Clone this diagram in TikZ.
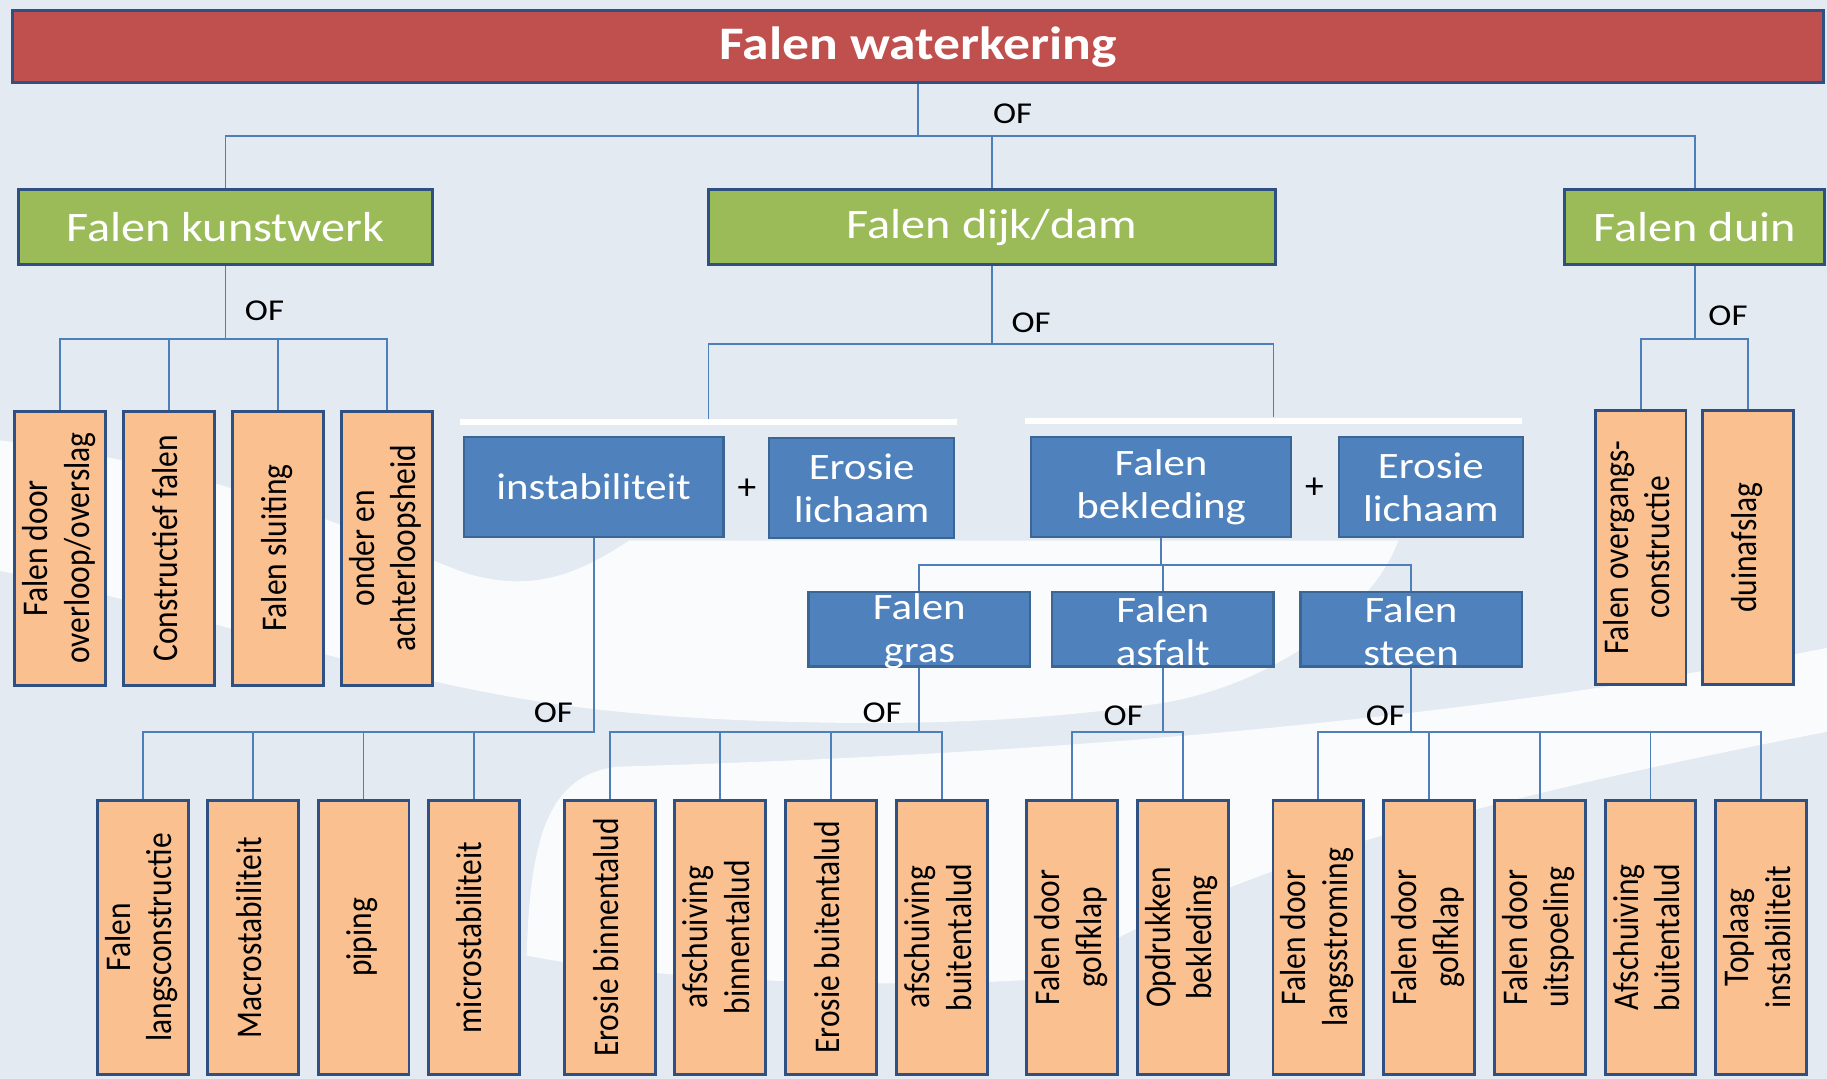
\documentclass[tikz,border=0pt]{standalone}
\usepackage{fontspec}
\usepackage{graphicx}
\setmainfont{Carlito}
\newfontfamily\widefont[FakeStretch=1.15]{Carlito}

\definecolor{bgcol}{HTML}{E3EAF2}
\definecolor{redfill}{HTML}{C0504D}
\definecolor{greenfill}{HTML}{9BBB59}
\definecolor{bluefill}{HTML}{4F81BD}
\definecolor{orangefill}{HTML}{FAC090}
\definecolor{darkedge}{HTML}{2F5083}
\definecolor{blueedge}{HTML}{3A6595}
\definecolor{linecol}{HTML}{4F7FBA}

% vertical label, read from bottom to top
\newcommand\rottext[1]{\rotatebox{90}{\scalebox{1}[1.15]{\begin{tabular}{@{}c@{}}#1\end{tabular}}}}

\tikzset{
  conn/.style={draw=linecol, line width=1.6pt},
  redbox/.style={draw=darkedge, line width=2.5pt, fill=redfill, text=white, inner sep=0,
    font=\widefont\bfseries\fontsize{40}{48}\selectfont},
  greenbox/.style={draw=darkedge, line width=2.5pt, fill=greenfill, text=white, inner sep=0,
    minimum height=64, font=\widefont\fontsize{36}{43}\selectfont},
  bluebox/.style={draw=blueedge, line width=2pt, fill=bluefill, text=white, inner sep=0,
    align=center, font=\widefont\fontsize{32}{37}\selectfont},
  bluetext/.style={text=white, inner sep=0, align=center, font=\widefont\fontsize{32}{37}\selectfont},
  orangebox/.style={draw=darkedge, line width=2.5pt, fill=orangefill, text=black, inner sep=0,
    minimum width=78, minimum height=235, font=\fontsize{27}{31}\selectfont},
  oflabel/.style={inner sep=0, font=\widefont\fontsize{26}{30}\selectfont},
  plussign/.style={inner sep=0, font=\fontsize{32}{32}\selectfont},
  groupstrip/.style={fill=white, inner sep=0, minimum height=5},
}

\begin{document}
\begin{tikzpicture}[x=1pt,y=-1pt]
\useasboundingbox (0,0) rectangle (1568,926);
\fill[bgcol] (0,0) rectangle (1568,926);

% white swoosh in the backdrop
\fill[white, opacity=0.85] (0,378) .. controls (180,398) and (320,462) .. (400,492)
  .. controls (460,510) and (500,490) .. (540,464) -- (1200,464)
  .. controls (1180,520) and (1100,585) .. (1000,603)
  .. controls (900,618) and (800,622) .. (700,620)
  .. controls (600,618) and (520,612) .. (450,600)
  .. controls (300,575) and (150,520) .. (0,490) -- cycle;
\fill[white, opacity=0.85] (452,820) .. controls (455,720) and (470,665) .. (530,658)
  .. controls (800,650) and (1200,630) .. (1568,556) -- (1568,628)
  .. controls (1300,680) and (1050,740) .. (900,840)
  .. controls (750,850) and (550,840) .. (452,820) -- cycle;

% bus levels
\coordinate (busTop) at (0,117);
\coordinate (busK) at (0,291);
\coordinate (busD) at (0,295);
\coordinate (busU) at (0,291);
\coordinate (busBek) at (0,485);
\coordinate (busLow) at (0,628);

% top level
\node[redbox, minimum width=1554, minimum height=62] (top) at (788,40) {Falen waterkering};

% second level
\node[greenbox, minimum width=355] (kunst) at (193.5,195) {Falen kunstwerk};
\node[greenbox, minimum width=487] (dijk) at (851.5,195) {Falen dijk/dam};
\node[greenbox, minimum width=223] (duin) at (1454.5,195) {Falen duin};

% kunstwerk mechanisms
\node[orangebox] (k1) at (51.5,470.5) {\rottext{Falen door\\overloop/overslag}};
\node[orangebox] (k2) at (145,470.5) {\rottext{Constructief falen}};
\node[orangebox] (k3) at (238.5,470.5) {\rottext{Falen sluiting}};
\node[orangebox] (k4) at (332,470.5) {\rottext{onder en\\achterloopsheid}};

% duin mechanisms
\node[orangebox] (u1) at (1408,470) {\rottext{Falen overgangs-\\constructie}};
\node[orangebox] (u2) at (1500.5,470) {\rottext{duinafslag}};

% dijk/dam groups
\node[groupstrip, minimum width=426] (grpA) at (608,362) {};
\node[groupstrip, minimum width=426] (grpB) at (1093,361) {};

\node[bluebox, minimum width=223, minimum height=86] (inst) at (509.5,418) {instabiliteit};
\node[plussign] (plusA) at (641,420) {+};
\node[bluebox, minimum width=159, minimum height=86] (erosA) at (739.5,419) {Erosie\\lichaam};
\node[bluebox, minimum width=223, minimum height=86] (bekl) at (996.5,418) {Falen\\bekleding};
\node[plussign] (plusB) at (1128,419) {+};
\node[bluebox, minimum width=158, minimum height=86] (erosB) at (1228,418) {Erosie\\lichaam};

% revetment types
\node[bluebox, minimum width=190, minimum height=64] (gras) at (789,540) {};
\node[bluetext] (grasT) at (789,542) {Falen\\gras};
\node[bluebox, minimum width=190, minimum height=64] (asf) at (998,540) {};
\node[bluetext] (asfT) at (998,542) {Falen\\asfalt};
\node[bluebox, minimum width=190, minimum height=64] (steen) at (1211,540) {};
\node[bluetext] (steenT) at (1211,542) {Falen\\steen};

% lowest level mechanisms
\node[orangebox] (i1) at (122.5,804.5) {\rottext{Falen\\langsconstructie}};
\node[orangebox] (i2) at (217,804.5) {\rottext{Macrostabiliteit}};
\node[orangebox] (i3) at (312,804.5) {\rottext{piping}};
\node[orangebox] (i4) at (406.5,804.5) {\rottext{microstabiliteit}};
\node[orangebox] (g1) at (523.5,804.5) {\rottext{Erosie binnentalud}};
\node[orangebox] (g2) at (618,804.5) {\rottext{afschuiving\\binnentalud}};
\node[orangebox] (g3) at (713.5,804.5) {\rottext{Erosie buitentalud}};
\node[orangebox] (g4) at (808.5,804.5) {\rottext{afschuiving\\buitentalud}};
\node[orangebox] (a1) at (920,804.5) {\rottext{Falen door\\golfklap}};
\node[orangebox] (a2) at (1015,804.5) {\rottext{Opdrukken\\bekleding}};
\node[orangebox] (s1) at (1131.5,804.5) {\rottext{Falen door\\langsstroming}};
\node[orangebox] (s2) at (1226.5,804.5) {\rottext{Falen door\\golfklap}};
\node[orangebox] (s3) at (1321.5,804.5) {\rottext{Falen door\\uitspoeling}};
\node[orangebox] (s4) at (1416.5,804.5) {\rottext{Afschuiving\\buitentalud}};
\node[orangebox] (s5) at (1511.5,804.5) {\rottext{Toplaag\\instabiliteit}};

% OR connectors
\foreach \c in {kunst,dijk,duin}
  \draw[conn] (top.south) -- (top.south |- busTop) -| (\c.north);
\foreach \c in {k1,k2,k3,k4}
  \draw[conn] (kunst.south) -- (kunst.south |- busK) -| (\c.north);
\foreach \c in {grpA,grpB}
  \draw[conn] (dijk.south) -- (dijk.south |- busD) -| (\c.north);
\foreach \c in {u1,u2}
  \draw[conn] (duin.south) -- (duin.south |- busU) -| (\c.north);
\foreach \c in {gras,asf,steen}
  \draw[conn] (bekl.south) -- (bekl.south |- busBek) -| (\c.north);
\foreach \c in {i1,i2,i3,i4}
  \draw[conn] (inst.south) -- (inst.south |- busLow) -| (\c.north);
\foreach \c in {g1,g2,g3,g4}
  \draw[conn] (gras.south) -- (gras.south |- busLow) -| (\c.north);
\foreach \c in {a1,a2}
  \draw[conn] (asf.south) -- (asf.south |- busLow) -| (\c.north);
\foreach \c in {s1,s2,s3,s4,s5}
  \draw[conn] (steen.south) -- (steen.south |- busLow) -| (\c.north);

% OF labels
\node[oflabel] (of0) at (869,98) {OF};
\node[oflabel] (ofK) at (227,267) {OF};
\node[oflabel] (ofD) at (885,277) {OF};
\node[oflabel] (ofU) at (1483,271) {OF};
\node[oflabel] (ofI) at (475,612) {OF};
\node[oflabel] (ofG) at (757,612) {OF};
\node[oflabel] (ofA) at (964,614) {OF};
\node[oflabel] (ofS) at (1189,614) {OF};
\end{tikzpicture}
\end{document}
